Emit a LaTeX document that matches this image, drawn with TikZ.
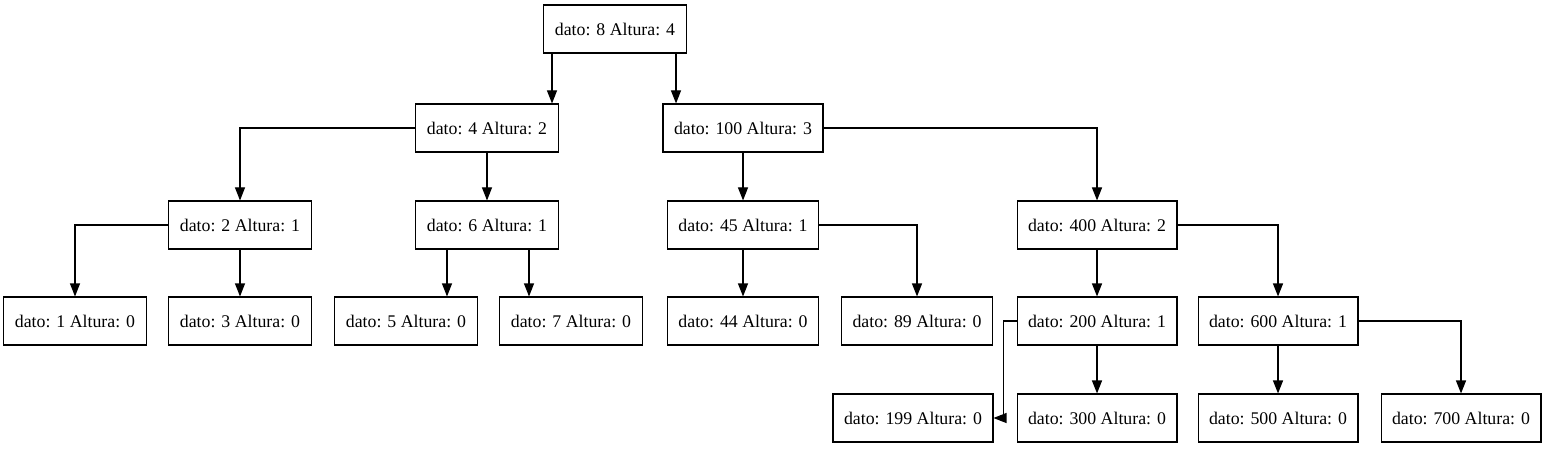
\documentclass[tikz,border=0pt]{standalone}
\usepackage{fontspec}
\setmainfont{Liberation Serif}
\usetikzlibrary{arrows.meta}
\begin{document}
\begin{tikzpicture}[x=1pt,y=-1pt,
  tnode/.style={draw, line width=1.1pt, rectangle, inner xsep=11pt, inner ysep=0pt,
    minimum height=48pt, font=\fontsize{17.8}{20}\selectfont},
  edge/.style={line width=1.1pt, -{Triangle[length=13pt,width=10pt]}}]
\useasboundingbox[fill=white] (0,0) rectangle (1546,449);
\node[tnode] (n8) at (615,29) {dato: 8 Altura: 4};
\node[tnode] (n4) at (487,128) {dato: 4 Altura: 2};
\node[tnode] (n100) at (743,128) {dato: 100 Altura: 3};
\node[tnode] (n2) at (240,225) {dato: 2 Altura: 1};
\node[tnode] (n6) at (487,225) {dato: 6 Altura: 1};
\node[tnode] (n45) at (743,225) {dato: 45 Altura: 1};
\node[tnode] (n400) at (1097,225) {dato: 400 Altura: 2};
\node[tnode] (n1) at (75,321) {dato: 1 Altura: 0};
\node[tnode] (n3) at (240,321) {dato: 3 Altura: 0};
\node[tnode] (n5) at (406,321) {dato: 5 Altura: 0};
\node[tnode] (n7) at (571,321) {dato: 7 Altura: 0};
\node[tnode] (n44) at (743,321) {dato: 44 Altura: 0};
\node[tnode] (n89) at (917,321) {dato: 89 Altura: 0};
\node[tnode] (n200) at (1097,321) {dato: 200 Altura: 1};
\node[tnode] (n600) at (1278,321) {dato: 600 Altura: 1};
\node[tnode] (n199) at (913,418) {dato: 199 Altura: 0};
\node[tnode] (n300) at (1097,418) {dato: 300 Altura: 0};
\node[tnode] (n500) at (1278,418) {dato: 500 Altura: 0};
\node[tnode] (n700) at (1461,418) {dato: 700 Altura: 0};
% edges
\draw[edge] ([xshift=-63pt]n8.south) -- ([xshift=-63pt]n8.south |- n4.north);
\draw[edge] ([xshift=61pt]n8.south) -- ([xshift=61pt]n8.south |- n100.north);
\draw[edge] (n4.west) -| (n2.north);
\draw[edge] (n4.south) -- (n6.north);
\draw[edge] (n100.south) -- (n45.north);
\draw[edge] (n100.east) -| (n400.north);
\draw[edge] (n2.west) -| (n1.north);
\draw[edge] (n2.south) -- (n3.north);
\draw[edge] ([xshift=-40pt]n6.south) -- ([xshift=-40pt]n6.south |- n5.north);
\draw[edge] ([xshift=42pt]n6.south) -- ([xshift=42pt]n6.south |- n7.north);
\draw[edge] (n45.south) -- (n44.north);
\draw[edge] (n45.east) -| (n89.north);
\draw[edge] (n400.south) -- (n200.north);
\draw[edge] (n400.east) -| (n600.north);
\draw[edge] (n200.west) -- ++(-13,0) |- (n199.east);
\draw[edge] (n200.south) -- (n300.north);
\draw[edge] (n600.south) -- (n500.north);
\draw[edge] (n600.east) -| (n700.north);
\end{tikzpicture}
\end{document}
